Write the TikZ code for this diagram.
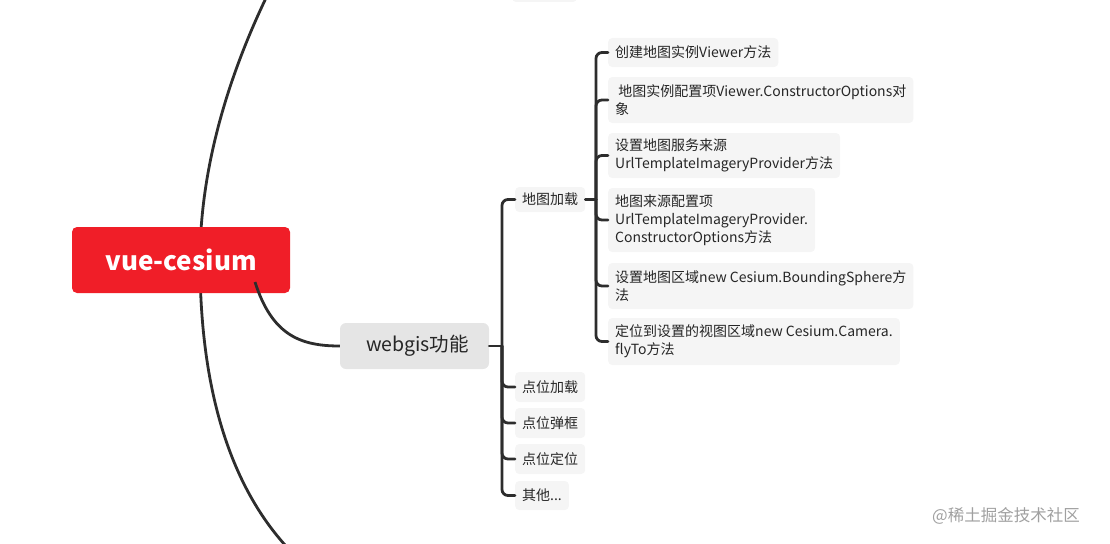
\documentclass[tikz,border=0pt]{standalone}
\usepackage{fontspec}
\newfontfamily\cjk{Noto Sans CJK SC}
\definecolor{rootred}{RGB}{240,30,40}
\definecolor{midgrey}{RGB}{229,229,229}
\definecolor{leafgrey}{RGB}{245,245,245}
\definecolor{linec}{RGB}{45,45,45}
\definecolor{wmark}{RGB}{160,160,160}
\tikzset{
  conn/.style={draw=linec, line width=2.8pt, rounded corners=6pt, line cap=round},
  curve/.style={draw=linec, line width=2.8pt},
  leaf/.style={fill=leafgrey, rounded corners=4pt, inner xsep=7pt, inner ysep=0pt, align=left, anchor=west,
    font=\cjk\fontsize{14}{18}\selectfont, text=black!85},
  rootbox/.style={fill=rootred, rounded corners=5pt, minimum width=218pt, minimum height=66pt,
    font=\cjk\bfseries\fontsize{26}{30}\selectfont, text=white},
  midbox/.style={fill=midgrey, rounded corners=6pt, minimum width=149pt, minimum height=46pt,
    font=\cjk\fontsize{19.5}{22}\selectfont, text=black!85},
}
\begin{document}
\begin{tikzpicture}[x=1pt,y=-1pt]
\useasboundingbox (0,0) rectangle (1110,543);
% curves behind root
\coordinate (topend) at (266,-2);
\coordinate (botend) at (285,545);
\draw[curve] (topend) .. controls (222,90) and (200,180) .. (200,260) .. controls (200,360) and (218,470) .. (botend);
% partially visible node at top
\node[fill=leafgrey, rounded corners=4pt, minimum width=65pt, minimum height=14pt] (topnode) at (544.5,-5) {};
% root
\node[rootbox] (root) at (181,260) {vue-cesium};
% mid node
\node[midbox] (web) at (414.5,346) {\hspace*{6pt}webgis功能};
\draw[curve] (255,282) .. controls (272,335) and (300,346) .. (web.west);
% level 2
\node[leaf, minimum height=25pt] (dt) at (515,199.5) {地图加载};
\node[leaf, minimum height=30pt] (p1) at (515,387) {点位加载};
\node[leaf, minimum height=30pt] (p2) at (515,423) {点位弹框};
\node[leaf, minimum height=30pt] (p3) at (515,459) {点位定位};
\node[leaf, minimum height=29pt] (p4) at (515,495.5) {其他...};
% level 3
\node[leaf, minimum height=29pt] (c1) at (608,52.5) {创建地图实例Viewer方法};
\node[leaf, minimum height=46pt] (c2) at (608,100) {\ 地图实例配置项Viewer.ConstructorOptions对\\象};
\node[leaf, minimum height=45pt] (c3) at (608,155.5) {设置地图服务来源\\UrlTemplateImageryProvider方法};
\node[leaf, minimum height=64pt] (c4) at (608,220) {地图来源配置项\\UrlTemplateImageryProvider.\\ConstructorOptions方法};
\node[leaf, minimum height=46pt] (c5) at (608,286) {设置地图区域new Cesium.BoundingSphere方\\法};
\node[leaf, minimum height=47pt] (c6) at (608,341.5) {定位到设置的视图区域new Cesium.Camera.\\flyTo方法};
% connectors from webgis
\coordinate (wj) at (502,346);
\draw[conn] (web.east) -- (wj);
\foreach \n in {dt,p1,p2,p3,p4} { \draw[conn] (wj) |- (\n.west); }
% connectors from 地图加载
\coordinate (dj) at (596,199.5);
\draw[conn] (dt.east) -- (dj);
\foreach \n in {c1,c2,c3,c4,c5,c6} { \draw[conn] (dj) |- (\n.west); }
% watermark
\node[anchor=west, text=wmark, font=\cjk\fontsize{16.5}{18}\selectfont, inner sep=0pt] (wm) at (932,516) {@稀土掘金技术社区};
\end{tikzpicture}
\end{document}
